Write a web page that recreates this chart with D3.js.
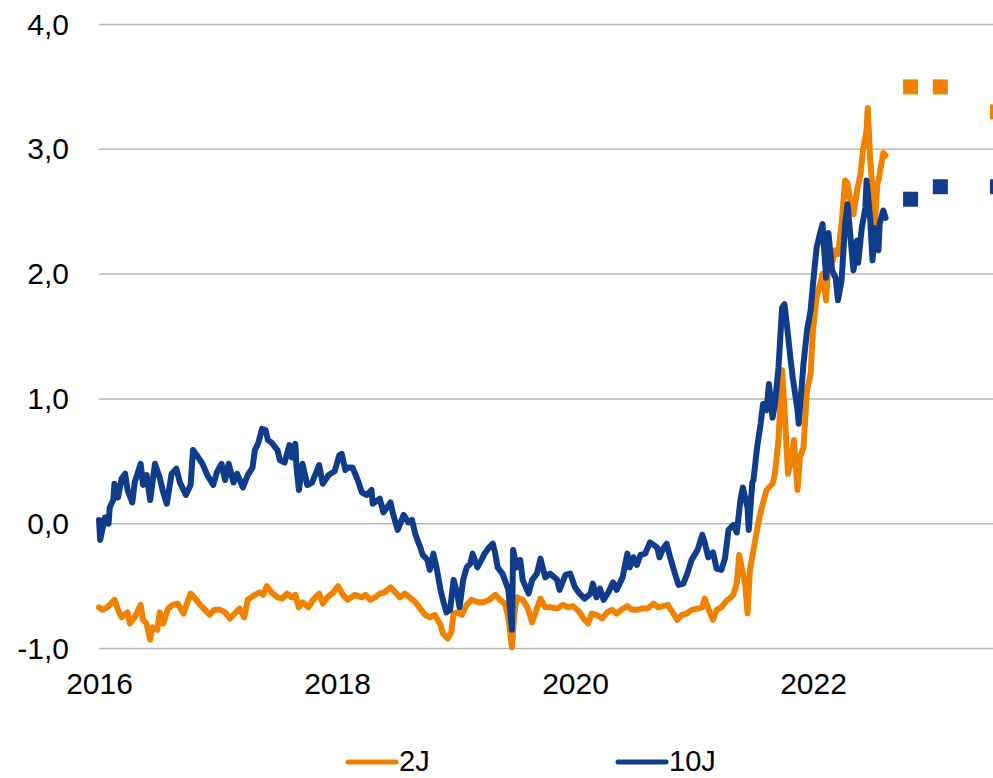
<!DOCTYPE html>
<html><head><meta charset="utf-8">
<script src="https://cdn.jsdelivr.net/npm/d3@7"></script>
<style>body{margin:0;background:#fff;} svg{display:block;font-family:"Liberation Sans",Arial,sans-serif;}</style>
</head><body><svg id="chart" width="993" height="778"></svg>
<script>
const seriesNames = ["2J", "10J"];
const seriesColors = ["#EF8200", "#0F3C8B"];
const yTicks = [-1, 0, 1, 2, 3, 4];
const xTicks = [2016, 2018, 2020, 2022];

const t2J = [2016.00,2016.03,2016.07,2016.11,2016.13,2016.16,2016.19,2016.24,2016.26,2016.30,2016.35,2016.37,2016.40,2016.43,2016.45,2016.49,2016.51,2016.54,2016.58,2016.62,2016.66,2016.71,2016.77,2016.81,2016.85,2016.89,2016.93,2016.97,
2017.02,2017.06,2017.10,2017.14,2017.18,2017.22,2017.25,2017.31,2017.35,2017.38,2017.41,2017.45,2017.50,2017.54,2017.58,2017.62,2017.65,2017.68,2017.71,2017.76,2017.80,2017.85,2017.88,2017.92,2017.97,
2018.01,2018.05,2018.09,2018.15,2018.21,2018.24,2018.28,2018.32,2018.36,2018.40,2018.45,2018.49,2018.53,2018.57,2018.61,2018.66,2018.70,2018.74,2018.78,2018.82,2018.87,2018.89,2018.93,2018.96,2018.98,
2019.01,2019.05,2019.09,2019.13,2019.19,2019.23,2019.28,2019.33,2019.37,2019.41,2019.44,2019.47,2019.49,2019.51,2019.56,2019.60,2019.64,2019.68,2019.71,2019.75,2019.79,2019.85,2019.90,2019.94,2019.98,
2020.03,2020.08,2020.11,2020.14,2020.18,2020.23,2020.27,2020.31,2020.35,2020.39,2020.44,2020.48,2020.52,2020.56,2020.61,2020.66,2020.70,2020.74,2020.78,2020.82,2020.86,2020.90,2020.94,2020.98,
2021.03,2021.07,2021.09,2021.12,2021.16,2021.19,2021.23,2021.28,2021.30,2021.33,2021.36,2021.38,2021.40,2021.43,2021.45,2021.47,2021.50,2021.53,2021.55,2021.57,2021.61,2021.66,2021.68,2021.71,2021.74,2021.76,2021.79,2021.82,2021.84,2021.87,2021.89,2021.92,2021.95,2021.98,
2022.00,2022.03,2022.06,2022.08,2022.11,2022.13,2022.16,2022.19,2022.21,2022.24,2022.27,2022.29,2022.31,2022.34,2022.37,2022.40,2022.42,2022.45,2022.46,2022.48,2022.50,2022.52,2022.54,2022.55,2022.58,2022.59,2022.61];
const v2J = [-0.67,-0.69,-0.67,-0.63,-0.61,-0.69,-0.75,-0.71,-0.80,-0.75,-0.65,-0.77,-0.80,-0.93,-0.83,-0.85,-0.71,-0.80,-0.68,-0.65,-0.64,-0.72,-0.56,-0.60,-0.65,-0.69,-0.73,-0.69,
-0.69,-0.71,-0.76,-0.72,-0.68,-0.75,-0.61,-0.57,-0.55,-0.57,-0.50,-0.55,-0.59,-0.60,-0.56,-0.59,-0.57,-0.67,-0.63,-0.67,-0.61,-0.56,-0.64,-0.59,-0.55,
-0.50,-0.57,-0.61,-0.57,-0.59,-0.57,-0.61,-0.59,-0.56,-0.55,-0.51,-0.55,-0.59,-0.56,-0.59,-0.63,-0.68,-0.73,-0.75,-0.73,-0.81,-0.88,-0.92,-0.87,-0.72,
-0.71,-0.73,-0.65,-0.61,-0.63,-0.63,-0.61,-0.57,-0.61,-0.64,-0.75,-0.99,-0.72,-0.59,-0.61,-0.67,-0.79,-0.68,-0.60,-0.67,-0.67,-0.68,-0.65,-0.67,-0.66,
-0.70,-0.77,-0.80,-0.72,-0.73,-0.76,-0.71,-0.69,-0.72,-0.69,-0.66,-0.69,-0.69,-0.68,-0.68,-0.64,-0.67,-0.66,-0.65,-0.71,-0.77,-0.73,-0.72,-0.69,
-0.68,-0.67,-0.60,-0.68,-0.77,-0.69,-0.67,-0.61,-0.60,-0.57,-0.48,-0.25,-0.35,-0.48,-0.72,-0.37,-0.21,-0.05,0.05,0.13,0.27,0.32,0.40,0.67,1.23,0.93,0.40,0.53,0.67,0.27,0.53,0.61,1.07,1.20,
1.55,1.81,1.92,2.00,1.79,2.09,2.09,2.19,2.16,2.40,2.75,2.73,2.61,2.48,2.67,2.80,2.99,3.15,3.33,2.93,2.67,2.40,2.72,2.75,2.91,2.97,2.95];

const t10J = [2016.00,2016.01,2016.05,2016.08,2016.09,2016.12,2016.13,2016.16,2016.19,2016.22,2016.24,2016.28,2016.30,2016.35,2016.37,2016.40,2016.43,2016.47,2016.51,2016.54,2016.57,2016.61,2016.65,2016.68,2016.73,2016.77,2016.79,2016.82,2016.87,2016.91,2016.96,2016.99,
2017.03,2017.06,2017.09,2017.13,2017.16,2017.21,2017.25,2017.29,2017.31,2017.34,2017.37,2017.40,2017.42,2017.45,2017.50,2017.52,2017.56,2017.60,2017.62,2017.65,2017.66,2017.68,2017.71,2017.75,2017.79,2017.85,2017.88,2017.93,2017.98,
2018.02,2018.04,2018.07,2018.09,2018.13,2018.17,2018.21,2018.25,2018.29,2018.30,2018.36,2018.39,2018.45,2018.47,2018.51,2018.56,2018.60,2018.63,2018.66,2018.70,2018.72,2018.76,2018.78,2018.81,2018.84,2018.87,2018.89,2018.92,2018.95,2018.98,
2019.01,2019.03,2019.06,2019.09,2019.12,2019.14,2019.18,2019.22,2019.24,2019.27,2019.31,2019.33,2019.35,2019.39,2019.41,2019.44,2019.47,2019.48,2019.51,2019.54,2019.56,2019.61,2019.64,2019.68,2019.71,2019.75,2019.79,2019.85,2019.87,2019.92,2019.96,
2020.00,2020.03,2020.08,2020.13,2020.15,2020.18,2020.21,2020.24,2020.28,2020.32,2020.35,2020.40,2020.44,2020.46,2020.49,2020.52,2020.55,2020.59,2020.63,2020.66,2020.69,2020.71,2020.74,2020.77,2020.80,2020.84,2020.87,2020.91,2020.94,2020.98,
2021.03,2021.07,2021.09,2021.12,2021.16,2021.19,2021.23,2021.26,2021.29,2021.33,2021.36,2021.39,2021.41,2021.45,2021.46,2021.49,2021.50,2021.53,2021.56,2021.58,2021.61,2021.63,2021.66,2021.68,2021.71,2021.74,2021.76,2021.78,2021.81,2021.83,2021.87,2021.88,2021.92,2021.95,2021.98,
2022.00,2022.03,2022.06,2022.08,2022.11,2022.13,2022.16,2022.19,2022.21,2022.24,2022.27,2022.29,2022.31,2022.34,2022.37,2022.38,2022.41,2022.44,2022.45,2022.48,2022.50,2022.52,2022.55,2022.56,2022.59,2022.61];
const v10J = [0.03,-0.13,0.05,0.00,0.13,0.19,0.32,0.21,0.36,0.40,0.27,0.17,0.33,0.48,0.31,0.39,0.19,0.48,0.37,0.25,0.16,0.40,0.44,0.33,0.23,0.31,0.59,0.55,0.48,0.39,0.31,0.41,
0.48,0.35,0.48,0.33,0.40,0.29,0.39,0.45,0.59,0.65,0.76,0.75,0.67,0.65,0.59,0.51,0.49,0.63,0.53,0.64,0.45,0.27,0.48,0.31,0.33,0.47,0.32,0.39,0.42,
0.55,0.56,0.43,0.45,0.45,0.36,0.25,0.23,0.27,0.16,0.20,0.09,0.17,0.08,-0.05,0.07,0.01,0.03,-0.09,-0.19,-0.25,-0.29,-0.37,-0.24,-0.37,-0.53,-0.61,-0.71,-0.69,-0.45,
-0.56,-0.67,-0.45,-0.35,-0.32,-0.24,-0.35,-0.28,-0.24,-0.20,-0.16,-0.24,-0.35,-0.40,-0.45,-0.53,-0.85,-0.21,-0.35,-0.29,-0.45,-0.56,-0.45,-0.40,-0.28,-0.43,-0.40,-0.45,-0.53,-0.41,-0.40,
-0.51,-0.55,-0.60,-0.56,-0.48,-0.59,-0.52,-0.61,-0.55,-0.47,-0.53,-0.43,-0.24,-0.35,-0.27,-0.33,-0.25,-0.24,-0.15,-0.17,-0.19,-0.27,-0.20,-0.16,-0.27,-0.40,-0.49,-0.48,-0.41,-0.29,
-0.21,-0.09,-0.15,-0.27,-0.23,-0.36,-0.37,-0.28,-0.05,-0.01,-0.07,0.19,0.29,0.13,-0.05,0.33,0.35,0.61,0.80,0.96,0.91,1.12,0.85,0.96,1.25,1.73,1.76,1.60,1.33,1.17,0.91,0.80,1.28,1.55,1.71,
1.92,2.21,2.33,2.40,1.97,2.33,2.03,1.97,1.79,1.95,2.40,2.56,2.35,2.03,2.27,2.09,2.37,2.53,2.75,2.45,2.11,2.37,2.19,2.40,2.51,2.45];

const tForecast = [2022.82, 2023.07, 2023.55];
const f2J = [3.50, 3.50, 3.30];
const f10J = [2.60, 2.70, 2.70];

const W = 993, H = 778;
const svg = d3.select("#chart");
svg.append("rect").attr("width", W).attr("height", H).attr("fill", "#fff");

const x = d3.scaleLinear().domain([2016, 2023.5]).range([99, 991.5]);
const y = d3.scaleLinear().domain([-1, 4]).range([648.5, 24.5]);

// gridlines
svg.append("g").selectAll("line").data(yTicks).join("line")
  .attr("x1", 99).attr("x2", W)
  .attr("y1", d => y(d)).attr("y2", d => y(d))
  .attr("stroke", "#b8b8b8").attr("stroke-width", 1.5);

const fmtY = v => d3.format(".1f")(v).replace(".", ",").replace("−", "-");

// y axis
const gy = svg.append("g").attr("transform", "translate(99,0)")
  .call(d3.axisLeft(y).tickValues(yTicks).tickSize(0).tickPadding(30).tickFormat(fmtY));
gy.select(".domain").remove();
gy.selectAll("text").attr("font-size", 30).attr("fill", "#000")
  .attr("font-family", '"Liberation Sans",Arial,sans-serif');

// x axis
const gx = svg.append("g").attr("transform", "translate(0,648.5)")
  .call(d3.axisBottom(x).tickValues(xTicks).tickSize(0).tickPadding(24).tickFormat(d3.format("d")));
gx.select(".domain").remove();
gx.selectAll("text").attr("font-size", 30).attr("fill", "#000")
  .attr("font-family", '"Liberation Sans",Arial,sans-serif');

const line = d3.line().x(d => x(d[0])).y(d => y(d[1]));
const series = [
  { name: seriesNames[0], color: seriesColors[0], pts: d3.zip(t2J, v2J), f: d3.zip(tForecast, f2J) },
  { name: seriesNames[1], color: seriesColors[1], pts: d3.zip(t10J, v10J), f: d3.zip(tForecast, f10J) }
];

svg.append("g").selectAll("path").data(series).join("path")
  .attr("d", d => line(d.pts))
  .attr("fill", "none").attr("stroke", d => d.color)
  .attr("stroke-width", 6).attr("stroke-linejoin", "round").attr("stroke-linecap", "round");

const sq = 15;
series.forEach(s => {
  svg.append("g").selectAll("rect").data(s.f).join("rect")
    .attr("x", d => x(d[0]) - sq / 2).attr("y", d => y(d[1]) - sq / 2)
    .attr("width", sq).attr("height", sq).attr("fill", s.color);
});

// legend
const legendX = [348, 618];
const lg = svg.append("g").selectAll("g").data(series).join("g")
  .attr("transform", (d, i) => `translate(${legendX[i]},762)`);
lg.append("line").attr("x1", 0).attr("x2", 48).attr("y1", 0).attr("y2", 0)
  .attr("stroke", d => d.color).attr("stroke-width", 5).attr("stroke-linecap", "round");
lg.append("text").attr("x", 51).attr("y", 9).attr("font-size", 29).attr("fill", "#000")
  .text(d => d.name);
</script>
</body></html>
